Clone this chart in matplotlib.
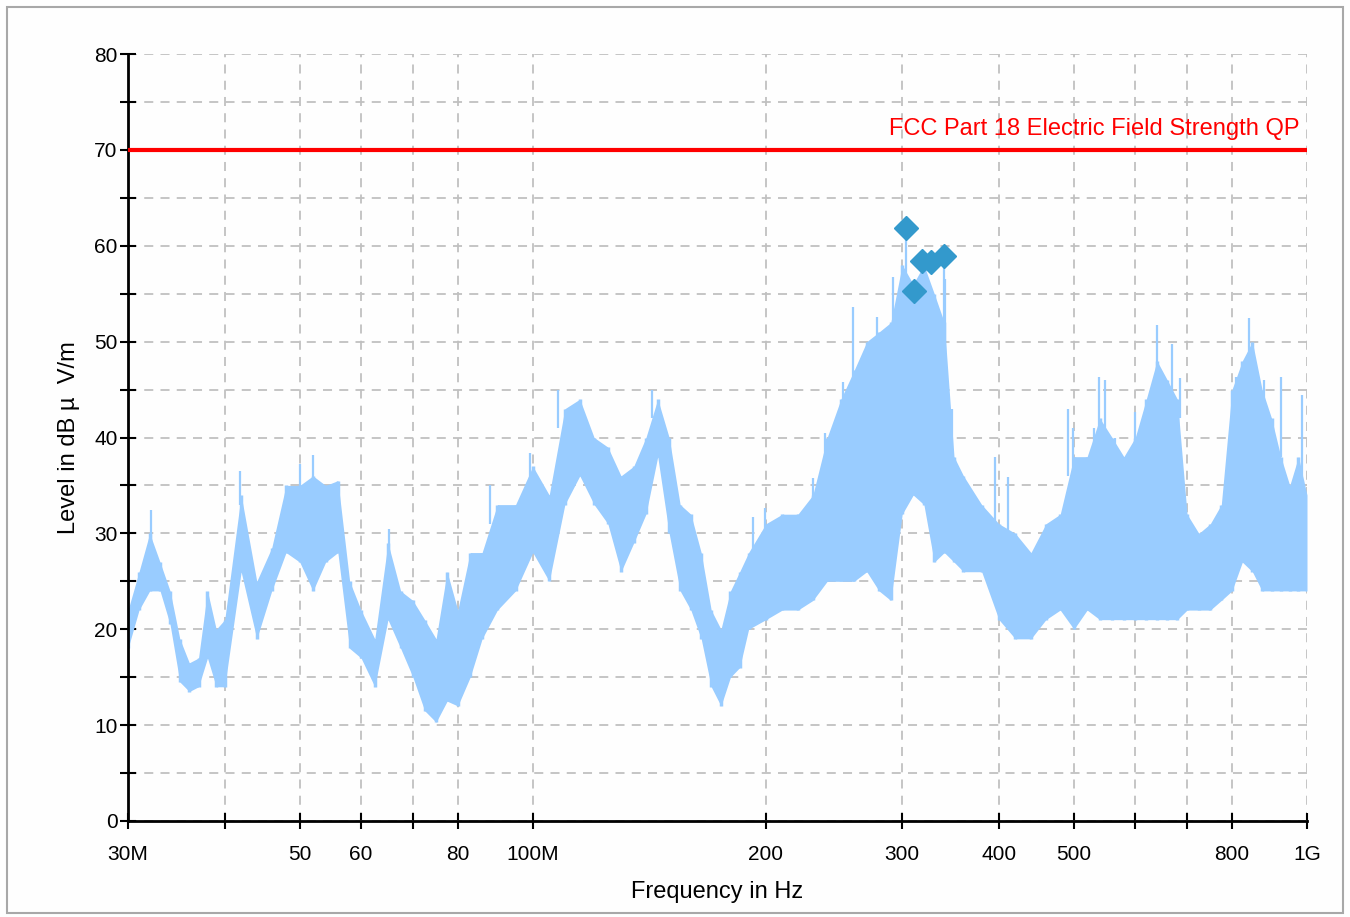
import numpy as np
import matplotlib.pyplot as plt
from matplotlib.patches import Rectangle

plt.rcParams['font.family'] = ['Liberation Sans', 'DejaVu Sans']

# Spektrum (Hüllkurve min/max je Frequenzpunkt)
freq_mhz = [30, 31, 32, 33, 34, 35, 36, 37, 38, 39, 40, 42, 44, 46, 48, 50, 52, 54, 56, 58,
            60, 62.5, 65, 67.5, 70, 72.5, 75, 77.5, 80, 83, 86, 90, 95, 100, 105, 110, 115, 120,
            125, 130, 135, 140, 145, 150, 155, 160, 165, 170, 175, 180, 185, 190, 200, 210, 220,
            230, 240, 250, 260, 270, 280, 290, 300, 310, 320, 330, 340, 350, 360, 380, 400, 420,
            440, 460, 480, 500, 520, 540, 560, 580, 600, 620, 640, 660, 680, 700, 725, 750, 775,
            800, 825, 850, 875, 900, 925, 950, 975, 1000]
level_lo = [18, 22, 24, 24, 20.5, 14.5, 13.5, 14, 17, 14, 14, 26, 19, 24, 28, 27, 24, 27, 28, 18,
            17, 14, 21, 18, 15, 11.5, 10.3, 12.5, 12, 15, 19, 22, 24, 28, 25, 33, 36, 33,
            31, 26, 29, 32, 38, 30, 24, 22, 19, 14, 12, 15, 16, 20, 21, 22, 22,
            23, 25, 25, 25, 26, 24, 23, 32, 34, 33, 27, 28, 27, 26, 26, 21, 19,
            19, 21, 22, 20, 22, 21, 21, 21, 21, 21, 21, 21, 21, 22, 22, 22, 23,
            24, 27, 26, 24, 24, 24, 24, 24, 24]
level_hi = [22, 26, 30, 27, 24, 19, 16.5, 17, 24, 20, 21, 34, 25, 28.5, 35, 35, 36, 35, 35.5, 25,
            22, 19, 29, 24, 23, 21, 19, 26, 22, 28, 28, 33, 33, 37, 34, 43, 44, 40,
            39, 36, 37, 40, 44, 40, 33, 32, 28, 22, 20, 24, 26, 28, 31, 32, 32,
            34, 40, 44, 47, 50, 51, 52, 58, 56, 58, 55, 52, 38, 36, 33, 31, 30,
            28, 31, 32, 38, 38, 42, 40, 38, 40, 44, 48, 46, 44, 32, 30, 31, 33,
            45, 48, 50, 45, 42, 38, 35, 38, 34]

# einzelne Spitzen
spike_mhz = [32.1, 41.9, 50.0, 52.0, 65.2, 88.1, 99.2, 107.8, 142.5, 192.5, 199.5, 230, 238.4,
             251.6, 259, 278, 292, 303.4, 318.1, 339.5, 341, 348, 353, 395, 411, 491, 499, 531,
             539, 548, 565, 600, 618, 640, 669, 686, 810, 841, 880, 926, 985]
spike_db = [32.4, 36.5, 37.2, 38.2, 30.5, 35.0, 38.4, 45.0, 45.0, 31.7, 32.6, 35.8, 40.5,
            45.8, 53.6, 52.6, 56.7, 61.0, 58.0, 58.0, 56.5, 43.0, 37.0, 38.0, 35.9, 43.0, 41.0, 41.0,
            46.3, 46.0, 40.0, 42.7, 42.7, 51.7, 49.8, 46.2, 46.3, 52.5, 46.0, 46.3, 44.4]
spike_base = [29, 33, 34, 35, 27, 31, 35, 41, 42, 27, 29, 32, 36,
              42, 45, 49, 51, 52, 50, 48, 50, 36, 35, 30, 30, 36, 36, 36,
              40, 40, 36, 38, 38, 45, 44, 42, 40, 48, 42, 38, 36]

# Messpunkte (QP)
marker_mhz = [303.4, 310.6, 318.1, 326.7, 339.5]
marker_db = [61.85, 55.3, 58.4, 58.3, 58.9]

grenzwert = 70
grenzwert_text = "FCC Part 18 Electric Field Strength QP"

x_ticks = [30, 40, 50, 60, 70, 80, 100, 200, 300, 400, 500, 600, 700, 800, 1000]
x_labels = ["30M", "", "50", "60", "", "80", "100M", "200", "300", "400", "500", "", "", "800", "1G"]

fig = plt.figure(figsize=(13.5, 9.17), dpi=100)
fig.patch.set_facecolor('#fefefe')
fig.patches.append(Rectangle((7 / 1350, 4 / 917), 1336 / 1350, 906 / 917, transform=fig.transFigure,
                             fill=False, edgecolor='#a8a8a8', lw=1.5))
ax = fig.add_axes([128 / 1350, 1 - 821 / 917, 1179 / 1350, 767 / 917])
ax.set_facecolor('#fefefe')

ax.fill_between(freq_mhz, level_lo, level_hi, color='#99ccff', lw=0, zorder=2)
ax.vlines(freq_mhz, level_lo, level_hi, color='#99ccff', lw=2.5, zorder=2)
ax.vlines(spike_mhz, spike_base, spike_db, color='#99ccff', lw=1.6, zorder=2)
ax.plot(marker_mhz, marker_db, linestyle='none', marker='D', ms=12, color='#3399cc', zorder=4)

ax.axhline(grenzwert, color='#ff0000', lw=3, zorder=3)
ax.text(0.994, 71, grenzwert_text, transform=ax.get_yaxis_transform(), ha='right', va='bottom',
        color='#ff0000', fontsize=17)

ax.set_xscale('log')
ax.set_xlim(30, 1000)
ax.set_ylim(0, 80)
ax.set_xticks(x_ticks)
ax.set_xticklabels(x_labels)
ax.xaxis.set_minor_locator(plt.NullLocator())
ax.set_yticks(range(0, 81, 10))
ax.set_yticks(range(5, 80, 10), minor=True)

ax.grid(True, which='both', color='#c0c0c0', linestyle=(0, (5, 4)), lw=1.3, zorder=1)
for s in ['top', 'right']:
    ax.spines[s].set_visible(False)
for s in ['left', 'bottom']:
    ax.spines[s].set_linewidth(2)
ax.tick_params(axis='both', which='both', direction='inout', length=11, width=1.5, labelsize=15)
ax.tick_params(axis='x', pad=12)
ax.tick_params(axis='y', pad=2)

ax.set_xlabel("Frequency in Hz", fontsize=17, labelpad=12)
ax.set_ylabel("Level in dB \u00b5  V/m", fontsize=17, labelpad=10)

plt.savefig("out.png", dpi=100)
